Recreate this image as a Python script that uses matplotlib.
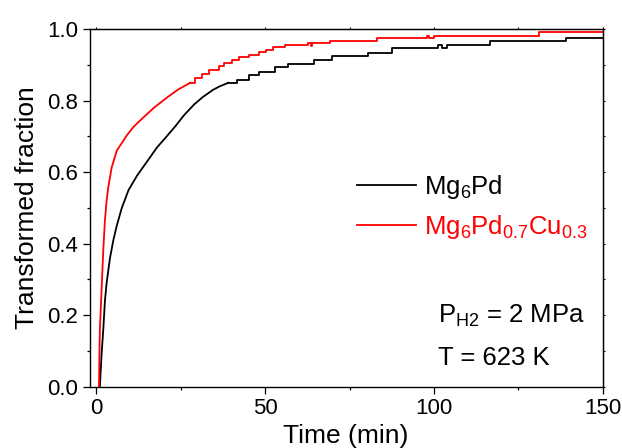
import matplotlib
matplotlib.use('Agg')
import matplotlib.pyplot as plt
from matplotlib.ticker import MultipleLocator

# Data
# early, smooth part of each curve
black_t = [1.0, 1.5, 2.0, 2.5, 3.0, 4.0, 5.0, 6.0, 7.5, 9.5, 12.0, 15.0, 18.0,
           20.8, 23.5, 26.0, 29.0, 31.5, 34.5, 36.5, 39.1]
black_y = [0.0, 0.09, 0.158, 0.24, 0.29, 0.36, 0.41, 0.45, 0.50, 0.55, 0.59, 0.63,
           0.67, 0.70, 0.73, 0.76, 0.79, 0.81, 0.83, 0.84, 0.85]
red_t = [0.74, 0.85, 1.0, 1.5, 2.0, 2.5, 3.0, 3.5, 4.5, 6.0, 9.0, 11.0, 13.9, 17.0,
         20.8, 24.0, 27.8]
red_y = [0.0, 0.08, 0.158, 0.27, 0.38, 0.465, 0.52, 0.558, 0.613, 0.66, 0.703, 0.727,
         0.753, 0.78, 0.808, 0.83, 0.85]

# later, stepped part (step start times and levels)
black_step_t = [39.1, 41.6, 45.2, 48.2, 52.8, 56.8, 64.5, 69.7, 80.4, 87.6, 101.3,
                102.5, 103.9, 116.7, 139.0, 150.0]
black_step_y = [0.850, 0.859, 0.872, 0.881, 0.894, 0.903, 0.915, 0.924, 0.934, 0.946,
                0.956, 0.946, 0.956, 0.966, 0.975, 0.975]
red_step_t = [27.8, 29.2, 31.3, 33.2, 36.2, 37.8, 40.3, 42.1, 45.2, 48.2, 50.3, 52.4,
              56.0, 62.8, 63.5, 63.8, 69.3, 83.0, 97.8, 98.6, 100.0, 131.0, 150.0]
red_step_y = [0.850, 0.862, 0.875, 0.886, 0.896, 0.905, 0.915, 0.921, 0.929, 0.936,
              0.943, 0.950, 0.956, 0.962, 0.954, 0.961, 0.968, 0.975, 0.982, 0.975,
              0.982, 0.992, 0.992]

labels = [r'Mg$_6$Pd', r'Mg$_6$Pd$_{0.7}$Cu$_{0.3}$']

plt.rcParams['font.family'] = ['Liberation Sans', 'DejaVu Sans']
plt.rcParams['mathtext.fontset'] = 'custom'
plt.rcParams['mathtext.rm'] = 'Liberation Sans'
plt.rcParams['mathtext.default'] = 'regular'

fig = plt.figure(figsize=(6.22, 4.48), dpi=100)
ax = fig.add_axes([0.1439, 0.1368, 0.969 - 0.1439, 0.935 - 0.1368])

lw = 1.3
ax.plot(black_t, black_y, color='black', lw=lw, label=labels[0])
ax.plot(black_step_t, black_step_y, color='black', lw=lw, drawstyle='steps-post')
ax.plot(red_t, red_y, color='red', lw=lw, label=labels[1])
ax.plot(red_step_t, red_step_y, color='red', lw=lw, drawstyle='steps-post')

ax.set_xlim(-2.07, 150)
ax.set_ylim(0, 1.0)
ax.xaxis.set_major_locator(MultipleLocator(50))
ax.xaxis.set_minor_locator(MultipleLocator(25))
ax.yaxis.set_major_locator(MultipleLocator(0.2))
ax.yaxis.set_minor_locator(MultipleLocator(0.1))
ax.yaxis.set_major_formatter(matplotlib.ticker.FormatStrFormatter('%.1f'))

for s in ax.spines.values():
    s.set_linewidth(1.0)
ax.tick_params(which='major', direction='out', length=5, width=0.9, labelsize=16, pad=3)
ax.tick_params(which='minor', direction='out', length=2.5, width=0.9)

# short ticks on top and right
top = ax.secondary_xaxis('top')
top.set_xticks([0, 25, 50, 75, 100, 125, 150])
top.tick_params(length=1.5, width=0.8, labeltop=False)
right = ax.secondary_yaxis('right')
right.set_yticks([0.1 * i for i in range(11)])
right.tick_params(length=1.5, width=0.8, labelright=False)

ax.set_xlabel('Time (min)', fontsize=19, labelpad=4)
ax.set_ylabel('Transformed fraction', fontsize=19, labelpad=6)

ax.legend(loc='upper left', bbox_to_anchor=(0.476, 0.662), frameon=False, fontsize=18.5,
          handlelength=2.3, handletextpad=0.3, labelspacing=0.45, labelcolor='linecolor')

ax.text(101.2, 0.178, r'P$_{H2}$ = 2 MPa', fontsize=18.5, va='baseline')
ax.text(101.2, 0.06, 'T = 623 K', fontsize=18.5, va='baseline')

plt.savefig('out.png', dpi=100)
